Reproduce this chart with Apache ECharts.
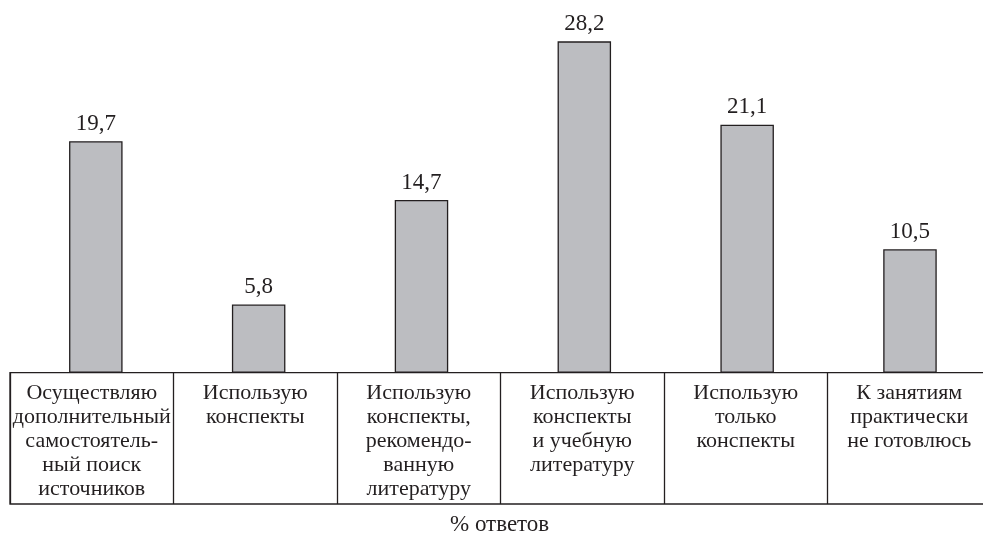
<!DOCTYPE html>
<html>
<head>
<meta charset="utf-8">
<script src="https://cdn.jsdelivr.net/npm/echarts@6/dist/echarts.min.js"></script>
<style>
html,body{margin:0;padding:0;background:#fff;}
#main{width:983px;height:535px;}
</style>
</head>
<body>
<div id="main"></div>
<script>
var categories = [
  'Осуществляю\nдополнительный\nсамостоятель-\nный поиск\nисточников',
  'Использую\nконспекты',
  'Использую\nконспекты,\nрекомендо-\nванную\nлитературу',
  'Использую\nконспекты\nи учебную\nлитературу',
  'Использую\nтолько\nконспекты',
  'К занятиям\nпрактически\nне готовлюсь'
];
var values = [19.7, 5.8, 14.7, 28.2, 21.1, 10.5];
var axisTitle = '% ответов';

var ink = '#231f20';
var serif = '"Liberation Serif", "DejaVu Serif", serif';

var chart = echarts.init(document.getElementById('main'), null, {renderer: 'canvas'});
chart.setOption({
  animation: false,
  backgroundColor: '#ffffff',
  title: {
    text: axisTitle,
    left: 450,
    top: 513,
    padding: 0,
    textStyle: {fontFamily: serif, fontSize: 23, fontWeight: 'normal', color: ink}
  },
  grid: [
    {left: 14.4, width: 977, top: 20.2, height: 352.5, outerBoundsMode: 'none', containLabel: false},
    {left: 10, width: 981, top: 372.7, height: 131.3, outerBoundsMode: 'none', containLabel: false,
     show: true, borderColor: ink, borderWidth: 1.3, backgroundColor: 'transparent'}
  ],
  xAxis: [
    {
      type: 'category', gridIndex: 0, data: categories,
      axisLine: {show: false}, axisTick: {show: false}, axisLabel: {show: false}, splitLine: {show: false}
    },
    {
      type: 'category', gridIndex: 1, data: categories, position: 'top',
      axisLine: {show: false}, axisTick: {show: false},
      splitLine: {show: true, lineStyle: {color: ink, width: 1.3}},
      axisLabel: {
        show: true, inside: true, margin: 9, interval: 0,
        verticalAlign: 'top', align: 'center',
        fontFamily: serif, fontSize: 22, lineHeight: 23.8, color: ink
      }
    }
  ],
  yAxis: [
    {type: 'value', gridIndex: 0, min: 0, max: 30, show: false, splitLine: {show: false}},
    {type: 'value', gridIndex: 1, min: 0, max: 1, show: false, splitLine: {show: false}}
  ],
  series: [{
    type: 'bar',
    xAxisIndex: 0, yAxisIndex: 0,
    data: values,
    barWidth: 53.5,
    itemStyle: {color: '#bcbdc1', borderColor: ink, borderWidth: 1.3},
    label: {
      show: true, position: 'top', distance: 6,
      fontFamily: serif, fontSize: 23, color: ink,
      formatter: function (p) { return String(p.value).replace('.', ','); }
    }
  }]
});
</script>
</body>
</html>
